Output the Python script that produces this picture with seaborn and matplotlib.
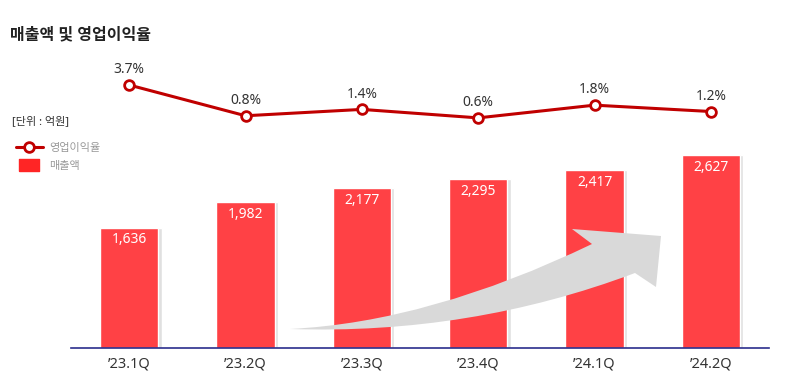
import numpy as np
import matplotlib
matplotlib.use('Agg')
import matplotlib.pyplot as plt
import seaborn as sns
from matplotlib.lines import Line2D
from matplotlib.path import Path
from matplotlib.patches import PathPatch

# data
quarters = ['\u201923.1Q', '\u201923.2Q', '\u201923.3Q', '\u201923.4Q', '\u201924.1Q', '\u201924.2Q']
sales = [1636, 1982, 2177, 2295, 2417, 2627]
margin = [3.7, 0.8, 1.4, 0.6, 1.8, 1.2]
margin_labels = ['3.7%', '0.8%', '1.4%', '0.6%', '1.8%', '1.2%']

sns.set_style('white')
plt.rcParams['font.family'] = ['Noto Sans', 'Noto Sans CJK KR', 'DejaVu Sans']

bar_color = '#FF4145'
line_color = '#C00000'

fig = plt.figure(figsize=(8, 3.74), dpi=100)
ax = fig.add_axes([71 / 800, 26 / 374, 698 / 800, 328 / 374])

pos = np.arange(len(quarters))

# soft shadow behind bars
ax.bar(pos + 0.028, sales, width=0.5, color='#e0e0e0', zorder=1)
sns.barplot(x=pos, y=sales, color=bar_color, width=0.5, saturation=1, ax=ax, zorder=2)

ax.set_xlim(-0.5, 5.5)
ax.set_ylim(0, 4463)
ax.set_xticks(pos)
ax.set_xticklabels(quarters, fontsize=10.5, color='#333333')
ax.tick_params(axis='x', length=0, pad=6)
ax.set_yticks([])
ax.set_xlabel('')
ax.set_ylabel('')
for s in ['top', 'left', 'right']:
    ax.spines[s].set_visible(False)
ax.spines['bottom'].set_color('#2B2E8C')
ax.spines['bottom'].set_linewidth(1.2)

for i, v in enumerate(sales):
    ax.text(i, v - 165, f'{v:,}', ha='center', va='center', color='white', fontsize=10)

# decorative growth arrow (figure pixel outline, y measured from top)
W, H = 800, 374
arrow_pts = [(290, 329), (430, 322), (592, 244), (572, 229), (661, 236), (656, 287),
             (635, 273), (470, 335), (290, 329), (290, 329)]
arrow_codes = [Path.MOVETO, Path.CURVE3, Path.CURVE3, Path.LINETO, Path.LINETO, Path.LINETO,
               Path.LINETO, Path.CURVE3, Path.CURVE3, Path.CLOSEPOLY]
arrow_path = Path([(x / W, 1 - y / H) for x, y in arrow_pts], arrow_codes)
fig.add_artist(PathPatch(arrow_path, transform=fig.transFigure, facecolor='#D9D9D9',
                         edgecolor='none', zorder=3))

# operating margin line
ax2 = ax.twinx()
ax2.set_zorder(ax.get_zorder() + 1)
sns.lineplot(x=pos, y=margin, ax=ax2, color=line_color, linewidth=2.2,
             marker='o', markersize=7, markerfacecolor='white',
             markeredgecolor=line_color, markeredgewidth=2)
ax2.set_ylim(-21.1, 9.83)
ax2.set_yticks([])
ax2.set_ylabel('')
for s in ['top', 'left', 'right', 'bottom']:
    ax2.spines[s].set_visible(False)
for i, v in enumerate(margin):
    ax2.text(i, v + 1.45, margin_labels[i], ha='center', va='center', color='#333333', fontsize=10)

# title, unit and legend
fig.text(10 / W, 1 - 35 / H, '매출액 및 영업이익율', fontsize=11.5, fontweight='bold',
         color='#222222', va='center', ha='left')
fig.text(12 / W, 1 - 122 / H, '[단위 : 억원]', fontsize=8, color='#333333', va='center', ha='left')

rect_marker = [(-1, -0.6), (1, -0.6), (1, 0.6), (-1, 0.6), (-1, -0.6)]
handles = [ax2.lines[0],
           Line2D([], [], marker=rect_marker, linestyle='none', color='#FF2525', markersize=14)]
fig.legend(handles, ['영업이익율', '매출액'], loc='upper left',
           bbox_to_anchor=(6 / W, 1 - 133 / H), frameon=False,
           fontsize=8, labelcolor='#999999', handlelength=2.4, handletextpad=0.6,
           labelspacing=0.6)

fig.savefig('out.png', dpi=100)
